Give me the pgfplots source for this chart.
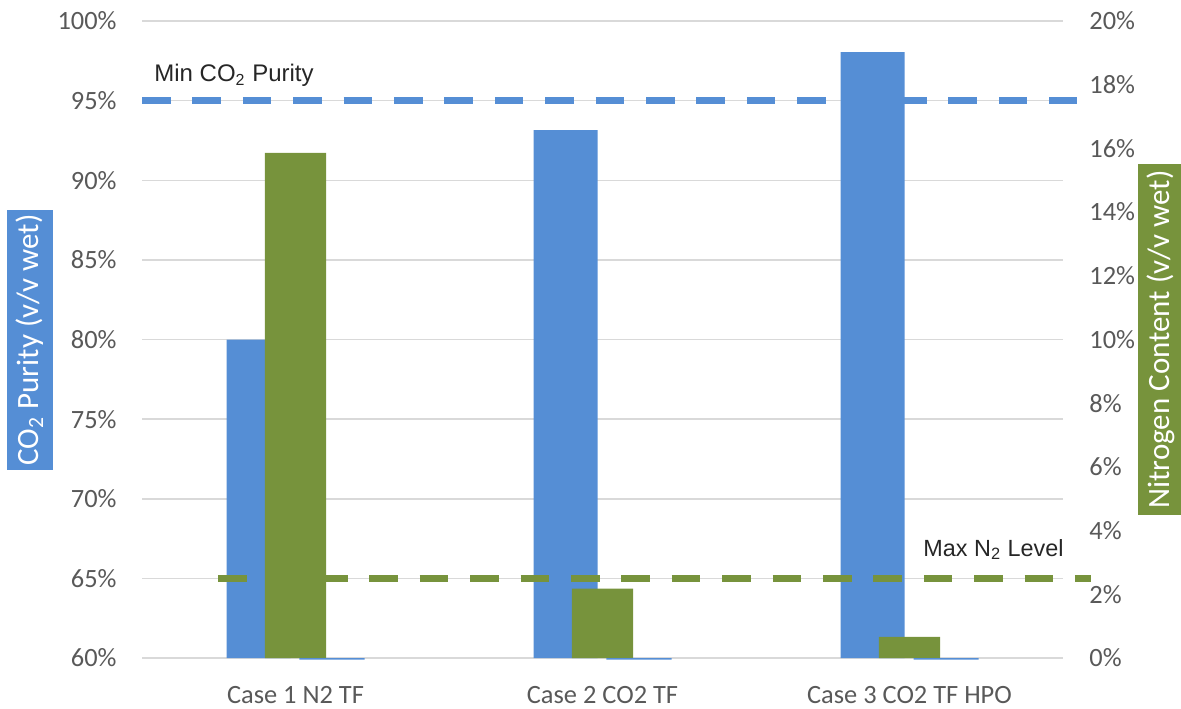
\documentclass[border=0pt]{standalone}
\usepackage{fontspec}
\setmainfont{Carlito}
\newfontfamily\arialf{Liberation Sans}
\usepackage{pgfplots}
\pgfplotsset{compat=1.18}
\definecolor{cblue}{HTML}{558ED5}
\definecolor{cgreen}{HTML}{77933C}
\definecolor{ctick}{HTML}{595959}
\definecolor{cgrid}{HTML}{D9D9D9}
\definecolor{ctext}{HTML}{262626}
\begin{document}
\begin{tikzpicture}
\path[use as bounding box] (0,0) rectangle (590.5pt,354pt);
\pgfplotsset{
  common/.style={
    at={(71pt,25pt)}, anchor=south west, scale only axis,
    width=460.5pt, height=318.5pt,
    xmin=-0.5, xmax=2.5,
    axis line style={draw=none},
    major tick length=0pt,
    tick style={draw=none},
    /pgf/number format/assume math mode=true,
    ticklabel style={font=\fontsize{13.2}{15}\selectfont, text=ctick, inner sep=0pt},
  }
}
% primary axis: CO2 purity
\begin{axis}[common,
  ymin=60, ymax=100, ytick={60,65,...,100},
  yticklabel={\pgfmathprintnumber{\tick}\%},
  yticklabel style={anchor=east, xshift=-12.5pt},
  ymajorgrids, grid style={cgrid, line width=0.75pt},
  xtick={0,1,2},
  xticklabels={Case 1 N2 TF, Case 2 CO2 TF, Case 3 CO2 TF HPO},
  xticklabel style={anchor=base, yshift=-22.5pt},
]
\addplot[ybar, bar width=0.2085, bar shift=-0.1205, fill=cblue, draw=none]
  coordinates {(0,80.0) (1,93.15) (2,98.04)};
\end{axis}
% secondary axis: nitrogen content
\begin{axis}[common, clip=false,
  ymin=0, ymax=20, ytick={0,2,...,20},
  yticklabel pos=right,
  yticklabel={\pgfmathprintnumber{\tick}\%},
  yticklabel style={anchor=west, xshift=13pt},
  xtick=\empty,
]
\addplot[ybar, bar width=0.2, bar shift=0, fill=cgreen, draw=none]
  coordinates {(0,15.86) (1,2.18) (2,0.66)};
\addplot[ybar, bar width=0.212, bar shift=0.119, fill=cblue, draw=none]
  coordinates {(0,-0.05) (1,-0.05) (2,-0.05)};
\addplot[cblue, line width=3.3pt, line cap=butt, dash pattern=on 14.3pt off 10.9pt]
  coordinates {(-0.5,17.5) (2.546,17.5)};
\addplot[cgreen, line width=3.3pt, line cap=butt, dash pattern=on 14.3pt off 10.9pt]
  coordinates {(-0.252,2.5) (2.591,2.5)};
\end{axis}
\node[anchor=base west, inner sep=0pt, text=ctext, font=\arialf\fontsize{12}{14}\selectfont]
  at (77pt,313pt) {Min CO\textsubscript{2} Purity};
\node[anchor=base west, inner sep=0pt, text=ctext, font=\arialf\fontsize{11.7}{14}\selectfont]
  at (461.5pt,76pt) {Max N\textsubscript{2} Level};
\node[rotate=90, fill=cblue, text=white, minimum width=130pt, minimum height=23pt, inner sep=0pt,
  font=\fontsize{15.5}{17}\selectfont] at (15pt,184pt) {CO\textsubscript{2} Purity (v/v wet)};
\node[rotate=90, fill=cgreen, text=white, minimum width=175pt, minimum height=23pt, inner sep=0pt,
  font=\fontsize{15.5}{17}\selectfont] at (580.5pt,184.25pt) {Nitrogen Content (v/v wet)};
\end{tikzpicture}
\end{document}
